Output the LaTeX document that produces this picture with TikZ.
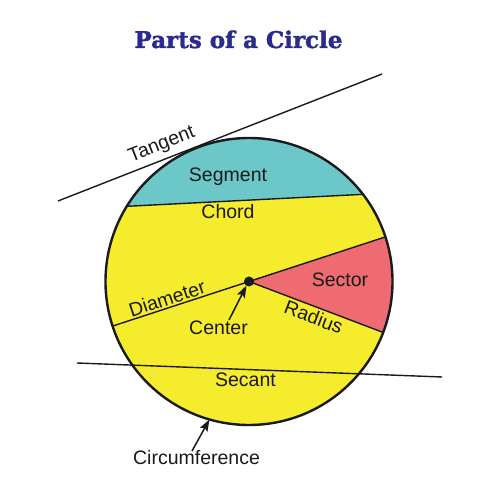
\documentclass[tikz,border=0pt]{standalone}
\usepackage{fontspec}
\setmainfont{Liberation Sans}
\newfontfamily\titlefont{DejaVu Serif Bold}[FakeBold=1.6]
\usetikzlibrary{arrows.meta,calc}
\definecolor{circyellow}{HTML}{F6EC2E}
\definecolor{segteal}{HTML}{6CC8C8}
\definecolor{secred}{HTML}{EF6B72}
\definecolor{titleblue}{HTML}{2B2B8E}
\definecolor{inkline}{HTML}{1A1A1A}
\tikzset{
  thinline/.style={draw=inkline, line width=1.4pt},
  outline/.style={draw=inkline, line width=2.4pt},
  lbl/.style={font=\fontsize{19.5}{22}\selectfont, text=inkline, inner sep=1pt},
  pointer/.style={draw=inkline, line width=1.5pt, -{Stealth[length=12pt,width=8.5pt,inset=2.5pt]}},
}
\begin{document}
\begin{tikzpicture}[x=1pt,y=1pt]
\fill[white] (0,0) rectangle (500,500);
\useasboundingbox (0,0) rectangle (500,500);
\def\R{143.5}
\coordinate (C) at (249,218.5);
% key points on the circle
\coordinate (chL) at ($(C)+(148.4:\R)$);
\coordinate (chR) at ($(C)+(37.4:\R)$);
\coordinate (diL) at ($(C)+(198.1:\R)$);
\coordinate (diR) at ($(C)+(18.1:\R)$);
\coordinate (raE) at ($(C)+(-20.8:\R)$);
\coordinate (cfP) at ($(C)+(254:\R)$);
\coordinate (ctHead) at ($(C)+(-2.6,-4.2)$);
% fills
\fill[circyellow] (C) circle (\R);
\fill[segteal] (chR) arc (37.4:148.4:\R) -- cycle;
\fill[secred] (C) -- (raE) arc (-20.8:18.1:\R) -- cycle;
% lines
\draw[thinline] (chL) -- (chR);
\draw[thinline] (diL) -- (diR);
\draw[thinline] (C) -- (raE);
% tangent
\coordinate (tgA) at (58,299);
\coordinate (tgB) at (382,426);
\draw[thinline] (tgA) -- (tgB);
% secant
\coordinate (scA) at (77,137);
\coordinate (scB) at (442,123);
\draw[thinline] (scA) -- (scB);
% outline
\draw[outline] (C) circle (\R);
% centre dot
\fill[inkline] (C) circle (5);
% title
\node[font=\titlefont\fontsize{23}{26}\selectfont, text=titleblue, anchor=base] (title) at (238.5,452) {Parts of a Circle};
% labels
\node[lbl, rotate=21.4] (tangent) at (162,355) {Tangent};
\node[lbl, anchor=base] (segment) at (228,318) {Segment};
\node[lbl, anchor=base] (chord) at (228,281) {Chord};
\path (diL) -- (C) node[lbl, pos=0.42, above=1pt, sloped] (diameter) {Diameter};
\path (C) -- (raE) node[lbl, pos=0.51, below=2pt, sloped] (radius) {Radius};
\node[lbl, anchor=base] (sector) at (340,213) {Sector};
\node[lbl, anchor=base] (center) at (218.5,165) {Center};
\node[lbl, anchor=base] (secant) at (245.5,113) {Secant};
\node[lbl, anchor=base] (circumference) at (196.5,35) {Circumference};
% pointers
\coordinate (ctTail) at (229,180);
\draw[pointer] (ctTail) -- (ctHead);
\coordinate (cfTail) at (192,49);
\draw[pointer] (cfTail) -- (cfP);
\end{tikzpicture}
\end{document}
